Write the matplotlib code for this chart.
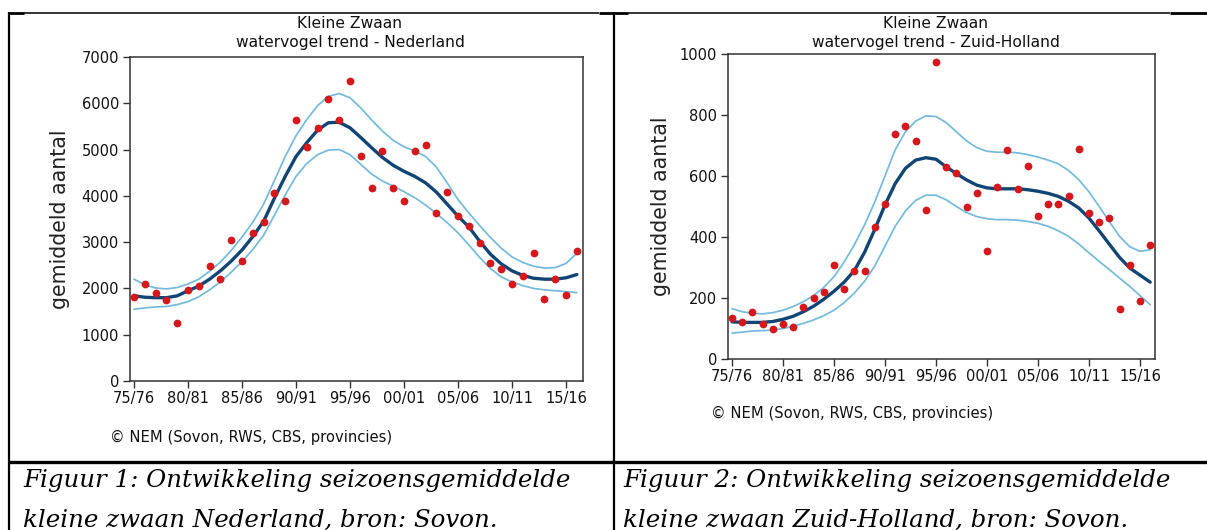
import matplotlib
matplotlib.use("Agg")
import matplotlib.pyplot as plt
from matplotlib.lines import Line2D

W, H, DPI = 1207, 530, 100

# ---------------- data ----------------
seasons = list(range(1975, 2017))          # season start year (75/76 ... 16/17)
tick_years = [1975, 1980, 1985, 1990, 1995, 2000, 2005, 2010, 2015]
tick_labels = ['75/76', '80/81', '85/86', '90/91', '95/96', '00/01', '05/06', '10/11', '15/16']

nl_counts = [1819, 2100, 1891, 1746, 1256, 1963, 2057, 2482, 2208, 3045,
             2591, 3190, 3428, 4056, 3883, 5629, 5066, 5463, 6091, 5629,
             6473, 4864, 4164, 4972, 4164, 3883, 4972, 5109, 3637, 4092,
             3565, 3356, 2973, 2555, 2410, 2100, 2273, 2764, 1782, 2208,
             1855, 2800]
nl_trend = [1840, 1810, 1800, 1800, 1840, 1950, 2050, 2200, 2380, 2590,
            2830, 3120, 3450, 3950, 4420, 4850, 5150, 5420, 5580, 5590,
            5470, 5260, 5040, 4830, 4660, 4530, 4420, 4280, 4080, 3820,
            3560, 3330, 3020, 2740, 2530, 2380, 2280, 2220, 2200, 2200,
            2230, 2300]
nl_upper = [2200, 2080, 2010, 1990, 2020, 2095, 2200, 2370, 2570, 2820,
            3110, 3430, 3820, 4330, 4850, 5300, 5650, 5950, 6150, 6210,
            6120, 5900, 5640, 5400, 5200, 5060, 4970, 4850, 4620, 4280,
            3920, 3630, 3360, 3100, 2870, 2680, 2560, 2480, 2440, 2450,
            2540, 2760]
nl_lower = [1550, 1580, 1600, 1610, 1650, 1715, 1820, 1970, 2140, 2350,
            2580, 2840, 3150, 3580, 4020, 4420, 4700, 4890, 4990, 5000,
            4890, 4680, 4470, 4320, 4210, 4090, 3960, 3800, 3620, 3420,
            3200, 2940, 2670, 2430, 2250, 2140, 2060, 2000, 1970, 1950,
            1930, 1910]

zh_counts = [134, 120, 154, 116, 98, 116, 104, 169, 199, 220,
             308, 230, 290, 290, 434, 509, 739, 764, 714, 489,
             974, 628, 610, 498, 544, 354, 564, 684, 558, 634,
             469, 509, 509, 534, 689, 479, 449, 463, 164, 308,
             189, 374]
zh_trend = [122, 120, 120, 120, 123, 130, 140, 155, 173, 196,
            222, 252, 290, 350, 425, 505, 575, 625, 652, 660,
            655, 630, 608, 587, 570, 561, 558, 558, 558, 555,
            550, 543, 533, 517, 495, 462, 420, 376, 333, 298,
            275, 252]
zh_upper = [165, 155, 150, 148, 152, 160, 172, 188, 208, 235,
            270, 318, 375, 440, 515, 600, 686, 745, 780, 797,
            795, 775, 745, 715, 693, 681, 678, 678, 676, 670,
            662, 652, 640, 618, 588, 548, 500, 450, 402, 368,
            353, 358]
zh_lower = [85, 88, 92, 93, 95, 100, 107, 117, 128, 142,
            160, 185, 216, 255, 305, 370, 435, 485, 520, 537,
            537, 522, 500, 480, 467, 460, 457, 457, 455, 451,
            445, 435, 420, 402, 377, 348, 320, 293, 265, 238,
            208, 178]

titles = [("Kleine Zwaan", "watervogel trend - Nederland"),
          ("Kleine Zwaan", "watervogel trend - Zuid-Holland")]
ylabel = "gemiddeld aantal"
credit = "\u00a9 NEM (Sovon, RWS, CBS, provincies)"
captions = [("Figuur 1: Ontwikkeling seizoensgemiddelde",
             "kleine zwaan Nederland, bron: Sovon."),
            ("Figuur 2: Ontwikkeling seizoensgemiddelde",
             "kleine zwaan Zuid-Holland, bron: Sovon.")]

# ---------------- style ----------------
RED = "#d4181c"
DARK = "#114575"
LIGHT = "#74bade"
SPINE = "#333333"
plt.rcParams['font.family'] = ['DejaVu Sans']

fig = plt.figure(figsize=(W / DPI, H / DPI), dpi=DPI)
fig.patch.set_facecolor("white")


def fx(x):
    return x / W


def fy(y):
    return 1 - y / H


def px_axes(l, t, r, b):
    return fig.add_axes([l / W, 1 - b / H, (r - l) / W, (b - t) / H])


panels = [
    dict(box=(130, 57, 583, 381), xlim=(1974.63, 2016.57), ylim=(0, 7000), ystep=1000,
         counts=nl_counts, trend=nl_trend, upper=nl_upper, lower=nl_lower,
         tx=350, ylx=60, credit_xy=(110, 437), title=titles[0]),
    dict(box=(728, 54, 1155, 359), xlim=(1974.61, 2016.47), ylim=(0, 1000), ystep=200,
         counts=zh_counts, trend=zh_trend, upper=zh_upper, lower=zh_lower,
         tx=936, ylx=661, credit_xy=(711, 413), title=titles[1]),
]

for p in panels:
    l, t, r, b = p['box']
    ax = px_axes(l, t, r, b)
    ax.plot(seasons, p['upper'], color=LIGHT, lw=1.25, zorder=2,
            solid_capstyle='round', solid_joinstyle='round')
    ax.plot(seasons, p['lower'], color=LIGHT, lw=1.25, zorder=2,
            solid_capstyle='round', solid_joinstyle='round')
    ax.plot(seasons, p['trend'], color=DARK, lw=2.4, zorder=3,
            solid_capstyle='round', solid_joinstyle='round')
    ax.plot(seasons, p['counts'], 'o', color=RED, ms=5.6, mec=RED, mew=0, zorder=4)
    ax.set_xlim(*p['xlim'])
    ax.set_ylim(*p['ylim'])
    ax.set_xticks(tick_years)
    ax.set_xticklabels(tick_labels)
    ax.set_yticks(list(range(0, p['ylim'][1] + 1, p['ystep'])))
    for s in ax.spines.values():
        s.set_color(SPINE)
        s.set_linewidth(1.1)
    ax.tick_params(axis='both', direction='out', length=5, width=1.0, color=SPINE,
                   labelsize=10.5, labelcolor='#111111')
    ax.tick_params(axis='x', pad=2.5)
    ax.tick_params(axis='y', pad=3)
    ax.set_facecolor('white')
    # titles
    fig.text(fx(p['tx']), fy(23), p['title'][0], ha='center', va='center',
             fontsize=11.2, color='#111111')
    fig.text(fx(p['tx']), fy(43), p['title'][1], ha='center', va='center',
             fontsize=11.2, color='#111111')
    # y label
    fig.text(fx(p['ylx']), fy((t + b) / 2), ylabel, rotation=90, ha='center',
             va='center', fontsize=14.8, color='#222222')
    # credit
    cx, cy = p['credit_xy']
    fig.text(fx(cx), fy(cy), credit, ha='left', va='center', fontsize=10.6,
             color='#111111')

# ---------------- table borders ----------------
def hline(x0, x1, y, lw):
    fig.add_artist(Line2D([fx(x0), fx(x1)], [fy(y), fy(y)], color='black',
                          lw=lw, transform=fig.transFigure, solid_capstyle='butt'))


def vline(x, y0, y1, lw):
    fig.add_artist(Line2D([fx(x), fx(x)], [fy(y0), fy(y1)], color='black',
                          lw=lw, transform=fig.transFigure, solid_capstyle='butt'))

hline(8, 24, 13, 2.0)
hline(24, 599, 13, 1.1)
hline(599, 628, 13, 2.0)
hline(628, 1170, 13, 1.1)
hline(1170, 1207, 13, 2.0)
vline(9, 12, 530, 1.6)
vline(614, 12, 530, 1.6)
hline(8, 1207, 462, 2.4)

# ---------------- captions (fit to measured widths) ----------------
renderer = fig.canvas.get_renderer()
cap_specs = [(23, 480, captions[0][0]), (23, 520, captions[0][1]),
             (623, 480, captions[1][0]), (623, 520, captions[1][1])]
base = 18
probe = fig.text(0, 0, captions[0][0], fontsize=base, family='DejaVu Serif', style='italic')
wprobe = probe.get_window_extent(renderer).width
probe.remove()
cap_size = base * 548 / wprobe
for x, y, txt in cap_specs:
    fig.text(fx(x), fy(y), txt, ha='left', va='center', fontsize=cap_size,
             family='DejaVu Serif', style='italic', color='black')

fig.savefig("out.png", dpi=DPI, facecolor='white')
